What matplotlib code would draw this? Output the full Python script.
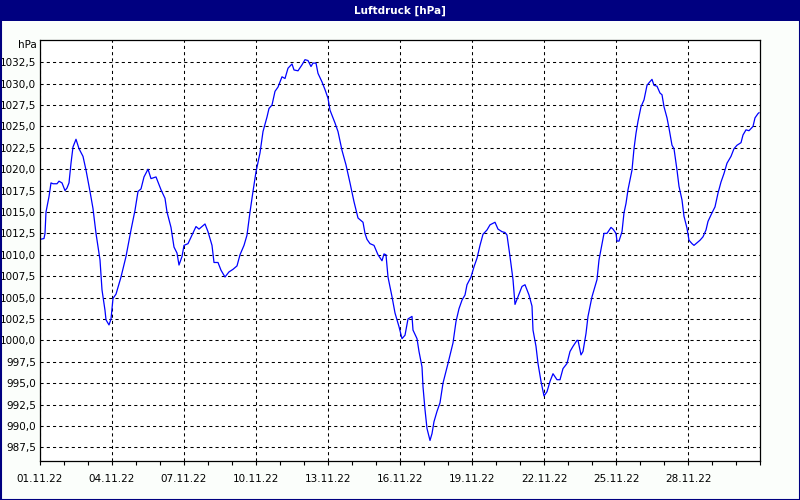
import numpy as np
import pandas as pd
import matplotlib; matplotlib.use('Agg')
import matplotlib.pyplot as plt
import matplotlib.dates as mdates
from matplotlib.ticker import FuncFormatter, FixedLocator
from matplotlib.patches import Rectangle

# hours since 01.11.22 00:00 and air pressure in hPa
hours = [0, 4, 5, 6, 9, 11, 13, 17, 19, 22, 25, 27, 29, 31, 33, 36, 39, 43, 46, 50,
         53, 56, 60, 62, 65, 66, 69, 71, 73, 76, 81, 86, 91, 95, 98, 101, 104, 108, 111, 116,
         121, 125, 127, 131, 134, 137, 139, 142, 144, 148, 152, 156, 159, 165, 168, 172, 174, 178, 181, 185,
         189, 193, 197, 200, 204, 207, 210, 213, 216, 220, 223, 227, 229, 232, 235, 238, 242, 245, 248, 252,
         254, 258, 262, 265, 268, 271, 273, 276, 278, 282, 285, 288, 290, 295, 298, 302, 306, 310, 314, 318,
         323, 325, 327, 330, 334, 338, 342, 344, 346, 348, 352, 355, 359, 362, 365, 368, 372, 373, 377, 379,
         382, 383, 385, 387, 390, 392, 394, 397, 400, 403, 408, 413, 416, 419, 422, 425, 427, 431, 434, 437,
         440, 443, 447, 450, 455, 458, 462, 465, 467, 470, 473, 475, 478, 482, 485, 489, 492, 493, 496, 498,
         501, 504, 507, 510, 513, 517, 520, 523, 527, 530, 533, 537, 538, 541, 543, 546, 548, 552, 555, 557,
         559, 562, 564, 567, 571, 573, 576, 577, 579, 582, 584, 586, 588, 592, 594, 596, 598, 601, 604, 607,
         609, 612, 614, 617, 620, 622, 624, 627, 629, 632, 634, 637, 639, 642, 644, 647, 649, 652, 654, 657,
         660, 663, 666, 668, 672, 675, 678, 681, 684, 687, 691, 694, 697, 701, 703, 706, 709, 713, 715, 718,
         719]
hpa = [1011.8, 1011.9, 1012.5, 1015.0, 1016.8, 1018.4, 1018.3, 1018.3, 1018.6, 1018.4,
       1017.5, 1017.8, 1018.4, 1020.7, 1022.6, 1023.5, 1022.4, 1021.5, 1019.9, 1017.4,
       1015.4, 1012.5, 1009.4, 1005.9, 1003.5, 1002.4, 1001.8, 1002.5, 1004.9, 1005.4,
       1007.4, 1009.8, 1012.9, 1015.2, 1017.4, 1017.7, 1019.1, 1020.0, 1018.9, 1019.1,
       1017.6, 1016.6, 1015.0, 1013.2, 1010.9, 1010.2, 1008.8, 1009.8, 1011.1, 1011.3,
       1012.3, 1013.3, 1013.0, 1013.6, 1012.7, 1011.1, 1009.1, 1009.1, 1008.2, 1007.4,
       1008.0, 1008.3, 1008.7, 1010.0, 1011.1, 1012.3, 1015.0, 1017.4, 1019.7, 1021.9,
       1024.4, 1026.1, 1027.1, 1027.5, 1029.1, 1029.6, 1030.8, 1030.6, 1031.8, 1032.3,
       1031.6, 1031.5, 1032.2, 1032.8, 1032.7, 1032.0, 1032.4, 1032.4, 1031.2, 1030.2,
       1029.3, 1028.3, 1026.9, 1025.4, 1024.4, 1022.2, 1020.5, 1018.4, 1016.2, 1014.3,
       1013.8, 1012.5, 1011.8, 1011.3, 1011.1, 1010.0, 1009.3, 1010.1, 1010.0, 1007.4,
       1005.1, 1003.2, 1001.6, 1000.2, 1000.6, 1002.5, 1002.8, 1001.2, 1000.2, 998.7,
       996.9, 994.6, 991.9, 989.7, 988.3, 989.1, 990.5, 991.7, 992.7, 995.0,
       997.3, 999.7, 1002.2, 1003.7, 1004.7, 1005.3, 1006.5, 1007.4, 1008.6, 1009.6,
       1011.1, 1012.4, 1012.9, 1013.5, 1013.8, 1013.0, 1012.7, 1012.6, 1012.3, 1009.8,
       1007.1, 1004.2, 1005.1, 1006.3, 1006.5, 1005.3, 1004.0, 1001.2, 999.3, 997.3,
       995.2, 993.5, 994.0, 995.2, 996.1, 995.4, 995.4, 996.7, 997.3, 998.7,
       999.3, 1000.0, 1000.0, 998.3, 998.7, 1000.8, 1002.8, 1005.1, 1006.3, 1007.1,
       1009.4, 1011.3, 1012.5, 1012.5, 1013.2, 1013.0, 1012.5, 1011.6, 1011.6, 1012.7,
       1014.9, 1016.0, 1017.6, 1019.9, 1022.4, 1024.2, 1025.6, 1027.3, 1028.1, 1029.8,
       1030.1, 1030.5, 1029.8, 1029.7, 1028.9, 1028.7, 1027.3, 1026.0, 1024.8, 1022.8,
       1022.4, 1019.9, 1018.0, 1016.4, 1014.5, 1013.1, 1011.7, 1011.3, 1011.1, 1011.4,
       1011.7, 1012.1, 1012.9, 1013.9, 1014.9, 1015.6, 1017.2, 1018.5, 1019.5, 1020.7,
       1021.5, 1022.4, 1022.8, 1023.1, 1024.0, 1024.6, 1024.5, 1025.0, 1026.0, 1026.5,
       1026.6]
y_ticks = [987.5 + 2.5 * i for i in range(19)]
x_ticks = pd.date_range('2022-11-01', '2022-11-28', freq='3D')
start = pd.Timestamp('2022-11-01')
end = pd.Timestamp('2022-12-01')

times = start + pd.to_timedelta(hours, unit='h')

BG = '#fbfefb'; NAVY = '#000080'
fig = plt.figure(figsize=(8, 5), dpi=100, facecolor=BG)
# title bar and window frame
fig.add_artist(Rectangle((0, 1 - 21 / 500), 1, 21 / 500, transform=fig.transFigure,
                         facecolor=NAVY, edgecolor='none'))
fig.add_artist(Rectangle((0.5 / 800, 0.5 / 500), 799 / 800, 1 - 1 / 500, transform=fig.transFigure,
                         facecolor='none', edgecolor=NAVY, linewidth=1.5))
fig.text(0.5, 1 - 10.5 / 500, 'Luftdruck [hPa]', color='white', fontweight='bold',
         fontsize=7.5, ha='center', va='center', family='DejaVu Sans')

ax = fig.add_axes([40 / 800, 39 / 500, 720 / 800, 421 / 500])
ax.set_facecolor('white')
ax.plot(times, hpa, color='#0000ff', linewidth=0.9)

ax.set_xlim(start, end)
ax.set_ylim(985.9, 1035.1)
ax.yaxis.set_major_locator(FixedLocator(y_ticks))
ax.yaxis.set_major_formatter(FuncFormatter(lambda v, p: f'{v:.1f}'.replace('.', ',')))
ax.set_xticks(x_ticks)
ax.xaxis.set_minor_locator(mdates.DayLocator())
ax.xaxis.set_major_formatter(mdates.DateFormatter('%d.%m.%y'))

ax.grid(True, which='major', color='black', linestyle=(0, (3, 3)), linewidth=0.75)
ax.tick_params(axis='y', length=0, pad=3, labelsize=7.5)
ax.tick_params(axis='x', which='both', length=3, width=0.8, direction='out', pad=6, labelsize=7.5)
for s in ax.spines.values():
    s.set_color('black'); s.set_linewidth(0.9)

fig.text(37 / 800, 1 - 45 / 500, 'hPa', ha='right', va='center', fontsize=7.5)

plt.savefig('out.png', dpi=100, facecolor=BG)
